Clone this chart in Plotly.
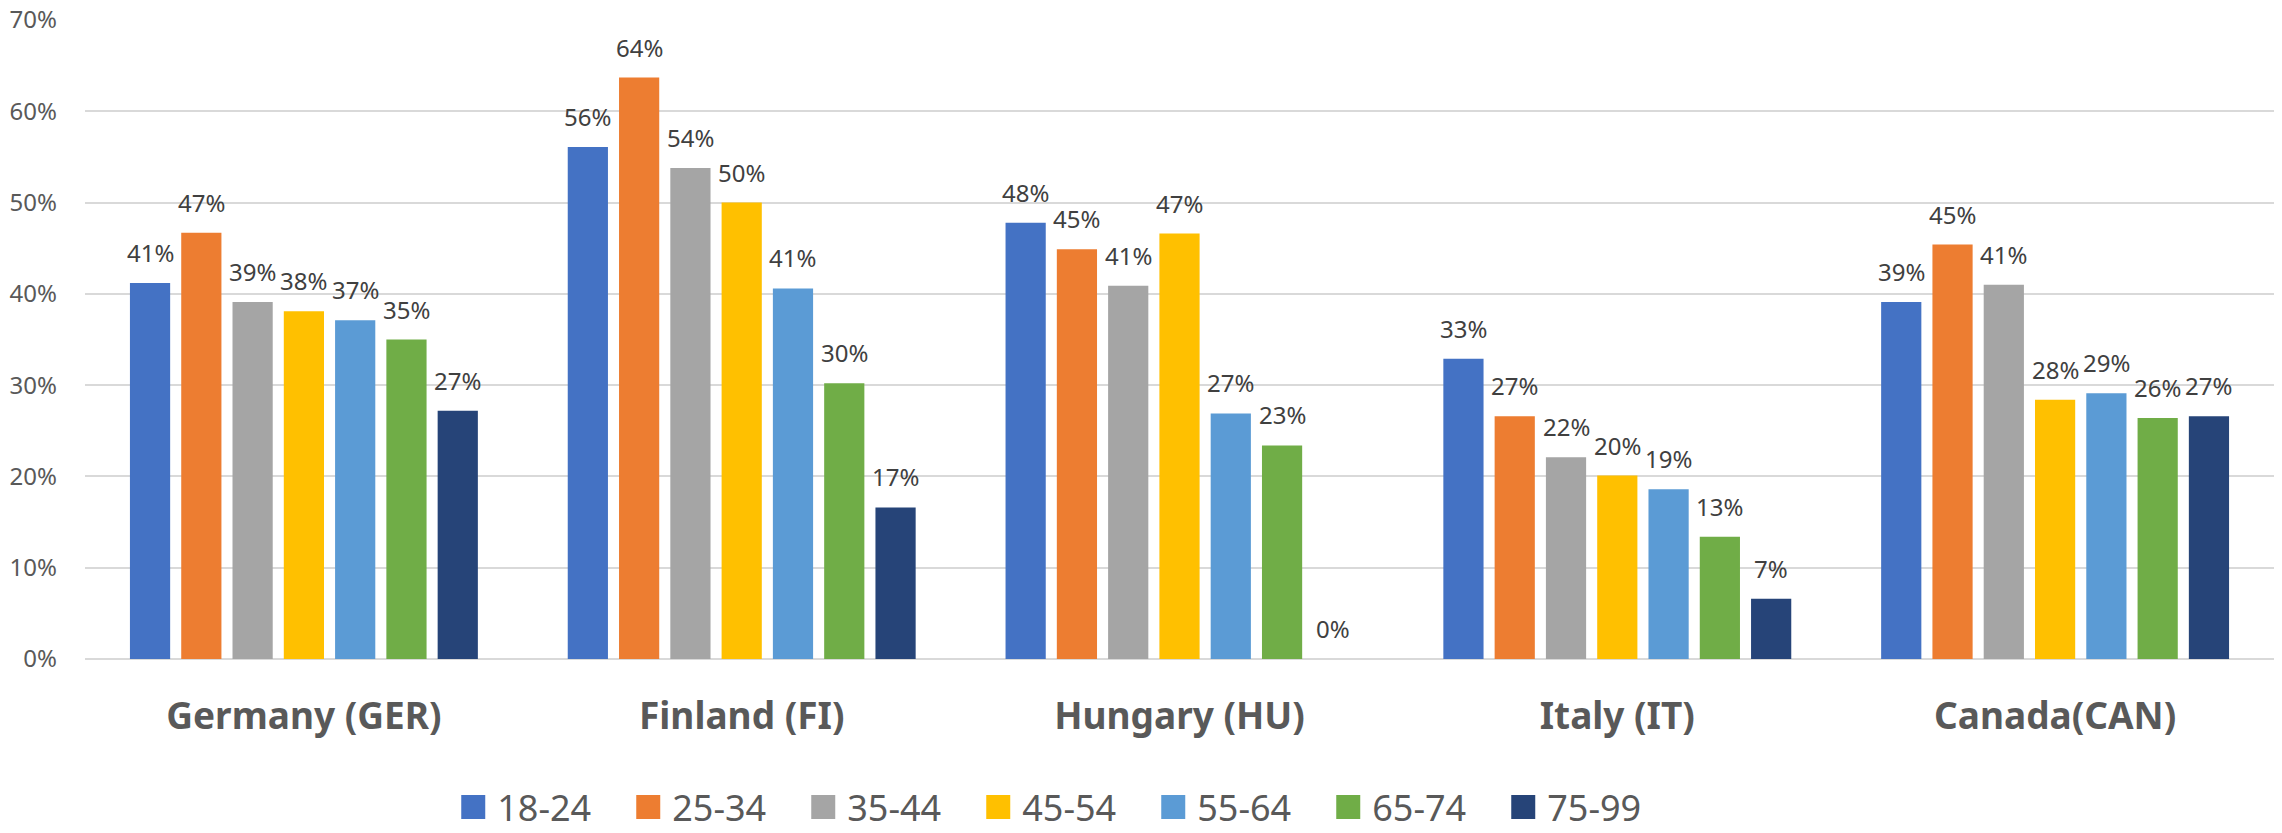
import plotly.graph_objects as go

countries = ["Germany (GER)", "Finland (FI)", "Hungary (HU)", "Italy (IT)", "Canada(CAN)"]
age_groups = ["18-24", "25-34", "35-44", "45-54", "55-64", "65-74", "75-99"]

v_18_24 = [0.412, 0.561, 0.478, 0.329, 0.391]
v_25_34 = [0.467, 0.637, 0.449, 0.266, 0.454]
v_35_44 = [0.391, 0.538, 0.409, 0.221, 0.410]
v_45_54 = [0.381, 0.500, 0.466, 0.201, 0.284]
v_55_64 = [0.371, 0.406, 0.269, 0.186, 0.291]
v_65_74 = [0.350, 0.302, 0.234, 0.134, 0.264]
v_75_99 = [0.272, 0.166, 0.000, 0.066, 0.266]

series = [v_18_24, v_25_34, v_35_44, v_45_54, v_55_64, v_65_74, v_75_99]
colors = ["#4472C4", "#ED7D31", "#A5A5A5", "#FFC000", "#5B9BD5", "#70AD47", "#264478"]

FONT = "Noto Sans"
BARGAP = 0.18
BARGROUPGAP = 0.216

fig = go.Figure()
for name, vals, col in zip(age_groups, series, colors):
    fig.add_trace(go.Bar(
        name=name, x=countries, y=vals,
        marker=dict(color=col, line=dict(width=0)),
        cliponaxis=False,
    ))

# data labels placed above each bar (positions follow the grouped-bar layout)
n = len(series)
slot = (1 - BARGAP) / n
annotations = []
for j, vals in enumerate(series):
    for i, v in enumerate(vals):
        pct = int(v * 100 + 0.5)
        annotations.append(dict(
            x=i + (j - (n - 1) / 2) * slot, y=v, xref="x", yref="y",
            text=f"{pct}%", showarrow=False,
            yanchor="bottom", xanchor="center", yshift=12,
            font=dict(family=FONT, size=24, color="#404040"),
        ))

fig.update_layout(
    width=2282, height=833,
    margin=dict(l=85, r=8, t=20, b=174, pad=0, autoexpand=False),
    paper_bgcolor="white", plot_bgcolor="white",
    barmode="group", bargap=BARGAP, bargroupgap=BARGROUPGAP,
    font=dict(family=FONT, color="#595959"),
    showlegend=True,
    legend=dict(
        orientation="h", x=0.1664, xanchor="left",
        yref="container", y=0.0312, yanchor="middle",
        font=dict(family=FONT, size=36, color="#595959"),
        itemwidth=38, entrywidth=122, entrywidthmode="pixels",
        bgcolor="rgba(0,0,0,0)", traceorder="normal",
    ),
    annotations=annotations,
)
fig.update_yaxes(
    range=[0, 0.7], dtick=0.1, tickformat=".0%", automargin=False,
    showgrid=True, gridcolor="#D9D9D9", gridwidth=1.5,
    zeroline=True, zerolinecolor="#D9D9D9", zerolinewidth=1.5,
    showline=False, ticks="", ticklabelstandoff=27,
    tickfont=dict(family=FONT, size=24, color="#595959"),
)
fig.update_xaxes(
    showgrid=False, showline=False, ticks="", ticklabelstandoff=32, automargin=False,
    tickfont=dict(family=FONT, size=37, color="#595959", weight="bold"),
)

post = """
document.body.style.margin = '0';
document.body.style.padding = '0';
var gd = document.getElementById('{plot_id}');
function fixLegend(){
  gd.querySelectorAll('.legendpoints path').forEach(function(p){
    p.setAttribute('d','M12,12H-12V-12H12Z');
  });
}
fixLegend();
gd.on('plotly_afterplot', fixLegend);
"""
fig.write_html("out.html", post_script=post, config={"displayModeBar": False})
